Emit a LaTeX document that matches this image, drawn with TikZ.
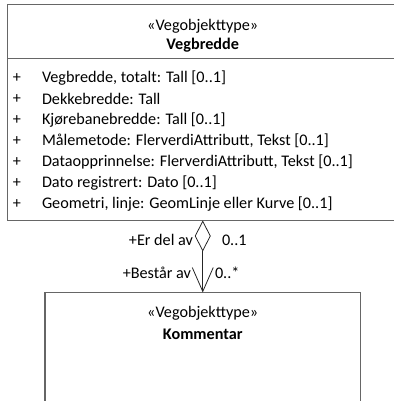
\documentclass[tikz,border=0pt]{standalone}
\usepackage{fontspec}
\setmainfont{Carlito}
\usetikzlibrary{arrows.meta}

\begin{document}
\begin{tikzpicture}
[x=1pt,y=-1pt,every node/.style={inner sep=0pt,outer sep=0pt,font=\fontsize{16.2}{19}\selectfont},
 umlbox/.style={rectangle,draw=black!60,line width=1.2pt,anchor=north west},
 assoc/.style={draw=black!85,line width=0.8pt,{Straight Barb[length=24pt,width=21pt]}-{Diamond[open,length=31pt,width=16pt]}}]
\useasboundingbox (0,0) rectangle (393,401);
\node[umlbox,minimum width=390.5pt,minimum height=216pt] (vegbredde) at (7.5,4.5) {};
\node[umlbox,minimum width=315.5pt,minimum height=130pt] (kommentar) at (45,292.5) {};
\coordinate (sep) at (7.5,58.5);
\draw[draw=black!60,line width=1.2pt] (sep) -- (sep -| vegbredde.east);

\node (stereo1) at (202.75,26) {«Vegobjekttype»};
\node[font=\fontsize{16.2}{19}\selectfont\bfseries] (name1) at (202.75,45) {Vegbredde};
\node (stereo2) at (202.75,313) {«Vegobjekttype»};
\node[font=\fontsize{16.2}{19}\selectfont\bfseries] (name2) at (202.75,334) {Kommentar};

\foreach \attr [count=\i from 0] in {{Vegbredde, totalt: Tall [0..1]},{Dekkebredde: Tall},{Kjørebanebredde: Tall [0..1]},
  {Målemetode: FlerverdiAttributt, Tekst [0..1]},{Dataopprinnelse: FlerverdiAttributt, Tekst [0..1]},
  {Dato registrert: Dato [0..1]},{Geometri, linje: GeomLinje eller Kurve [0..1]}}
{
\node (plus\i) at (17,78+21*\i) {+};
\node[anchor=west] (attr\i) at (42,78+21*\i) {\attr};
}

\draw[assoc] (kommentar.north) -- (vegbredde.south);
\node[anchor=east] (role1) at (193,240) {+Er del av};
\node[anchor=west] (mult1) at (222,240) {0..1};
\node[anchor=east] (role2) at (191,273) {+Består av};
\node[anchor=west] (mult2) at (215,273) {0..*};
\end{tikzpicture}
\end{document}
